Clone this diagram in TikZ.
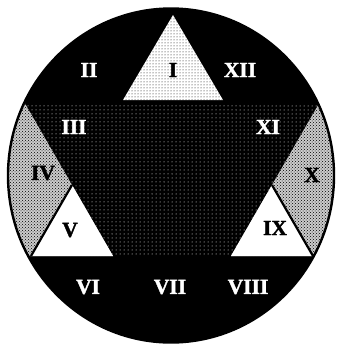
\documentclass[tikz,border=0pt]{standalone}
\usepackage{fontspec}
\setmainfont{Liberation Serif}
\newfontfamily\heavyserif[FakeBold=1.6]{Liberation Serif Bold}
\usetikzlibrary{patterns}
\pgfdeclarepatternformonly{sparsedots}{\pgfqpoint{-1pt}{-1pt}}{\pgfqpoint{1pt}{1pt}}{\pgfqpoint{4pt}{4pt}}%
{\pgfpathcircle{\pgfqpoint{0pt}{0pt}}{0.5pt}\pgfusepath{fill}}
\begin{document}
\begin{tikzpicture}[x=1pt,y=-1pt,
  lbl/.style={font=\heavyserif\fontsize{21.5}{21.5}\selectfont, inner sep=0pt},
  wl/.style={lbl,text=white},
  bl/.style={lbl,text=black},
  edge/.style={draw=black, line width=2.2pt, line join=round},
  darkdots/.style={fill=black, postaction={pattern=sparsedots, pattern color=white}},
  greydots/.style={fill=black!20, postaction={pattern=crosshatch dots, pattern color=black}},
  lightdots/.style={fill=white, postaction={pattern=dots, pattern color=black}}]
\useasboundingbox (0,0) rectangle (339,346);
\fill[white] (0,0) rectangle (339,346);
\begin{scope}
  \clip (171,175.5) ellipse [x radius=163pt, y radius=167pt];
  \fill[black] (0,0) rectangle (339,346);
  % central truncated inverted triangle
  \path[darkdots] (24.7,103) -- (319.3,103) -- (231,256) -- (113,256) -- cycle;
  % side lenses
  \path[greydots] (-10,103) -- (24.7,103) -- (113,256) -- (-10,256) -- cycle;
  \path[greydots] (349,103) -- (319.3,103) -- (231,256) -- (349,256) -- cycle;
  % white triangles V and IX
  \fill[white] (72,185) -- (113,256) -- (31,256) -- cycle;
  \fill[white] (272,185) -- (313,256) -- (231,256) -- cycle;
  \draw[edge] (72,185) -- (31,256);
  \draw[edge] (272,185) -- (313,256);
  % top triangle I
  \path[lightdots] (173,15) -- (223,100) -- (123,100) -- cycle;
\end{scope}
\draw[black, line width=2.4pt] (171,175.5) ellipse [x radius=163pt, y radius=167pt];
\node[bl] (n1) at (173,70) {I};
\node[wl] (n2) at (89,70) {II};
\node[wl] (n12) at (240,70) {XII};
\node[wl] (n3) at (74,127) {III};
\node[wl] (n11) at (268,127) {XI};
\node[bl] (n4) at (43,173) {IV};
\node[bl] (n10) at (312,175) {X};
\node[bl] (n5) at (70,230) {V};
\node[bl] (n9) at (275,228) {IX};
\node[wl] (n6) at (88,287) {VI};
\node[wl] (n7) at (170,287) {VII};
\node[wl] (n8) at (248,287) {VIII};
\end{tikzpicture}
\end{document}
